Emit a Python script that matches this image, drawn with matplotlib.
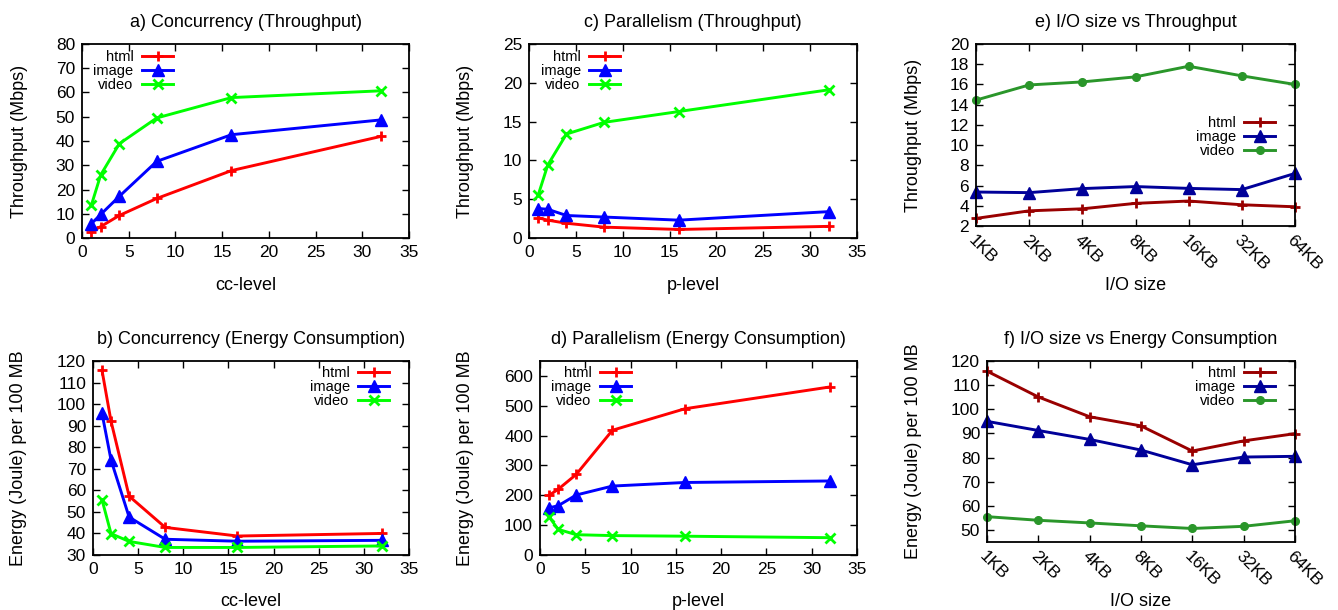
import matplotlib
matplotlib.use("Agg")
import matplotlib.pyplot as plt

plt.rcParams['font.family'] = ['Liberation Sans', 'DejaVu Sans']
plt.rcParams['font.size'] = 13

# ---------------- data ----------------
levels = [1, 2, 4, 8, 16, 32]
io_sizes = ['1KB', '2KB', '4KB', '8KB', '16KB', '32KB', '64KB']

cc_tp_html = [2.6, 4.7, 9.3, 16.3, 27.8, 41.9]
cc_tp_image = [5.9, 9.7, 17.2, 31.6, 42.6, 48.7]
cc_tp_video = [13.5, 26.0, 38.9, 49.5, 57.9, 60.7]

p_tp_html = [2.6, 2.3, 1.9, 1.4, 1.1, 1.5]
p_tp_image = [3.8, 3.7, 2.9, 2.7, 2.3, 3.4]
p_tp_video = [5.6, 9.4, 13.4, 14.9, 16.3, 19.1]

io_tp_html = [2.75, 3.5, 3.7, 4.24, 4.47, 4.1, 3.9]
io_tp_image = [5.36, 5.3, 5.7, 5.9, 5.72, 5.6, 7.2]
io_tp_video = [14.45, 15.95, 16.25, 16.75, 17.8, 16.85, 16.0]

cc_en_html = [115.6, 92.0, 57.3, 42.8, 38.8, 40.0]
cc_en_image = [95.7, 74.0, 47.6, 37.3, 36.4, 36.8]
cc_en_video = [55.6, 39.9, 36.3, 33.5, 33.5, 34.2]

p_en_html = [200, 220, 270, 418, 490, 563]
p_en_image = [158, 165, 201, 231, 243, 248]
p_en_video = [128, 86, 68, 65, 63, 58]

io_en_html = [115.8, 105.1, 96.9, 93.1, 82.7, 86.9, 89.9]
io_en_image = [95.0, 91.2, 87.5, 83.1, 77.0, 80.2, 80.5]
io_en_video = [55.5, 54.0, 52.9, 51.7, 50.6, 51.5, 53.8]

series_names = ['html', 'image', 'video']

W, H = 1338, 610
fig = plt.figure(figsize=(W / 100, H / 100), dpi=100)

def add_axes(l, t, r, b):
    return fig.add_axes([l / W, 1 - b / H, (r - l) / W, (b - t) / H])

bright = ['#ff0000', '#0000ff', '#00ff00']
dark = ['#990000', '#000099', '#2a962a']
mk_bright = ['+', '^', 'x']
mk_dark = ['+', '^', 'o']
ms_bright = [7, 8.5, 7]
ms_dark = [7, 8.5, 5.5]

def style(ax, rect, title, xlabel, ylabel, xlab_off, ylab_off):
    l, t, r, b = rect
    w, h = r - l, b - t
    ax.set_title(title, pad=12, fontsize=13)
    for s in ax.spines.values():
        s.set_linewidth(1.3)
    ax.tick_params(direction='in', top=True, right=True, length=5, width=1.0,
                   labelsize=12.5, pad=5)
    ax.set_xlabel(xlabel, va='center', fontsize=13)
    ax.set_ylabel(ylabel, va='center', fontsize=13)
    ax.xaxis.set_label_coords(0.5, -xlab_off / h)
    ax.yaxis.set_label_coords(-ylab_off / w, 0.5)

def legend(ax, rect, xr, yc):
    l, t, r, b = rect
    w, h = r - l, b - t
    ax.legend(loc='upper right', bbox_to_anchor=((xr - l) / w, (b - (yc - 6)) / h),
              markerfirst=False, frameon=False, borderpad=0, borderaxespad=0,
              handlelength=2.1, handletextpad=0.6, labelspacing=0.0, fontsize=10.5)

def plot_num(ax, x, ys, colors, markers, sizes):
    for y, c, m, s, n in zip(ys, colors, markers, sizes, series_names):
        ax.plot(x, y, color=c, marker=m, markersize=s, linewidth=2.1,
                markeredgewidth=2.0 if m in ('+', 'x') else 1.0, label=n)

# a
ra = (82, 44, 409, 238)
ax = add_axes(*ra)
plot_num(ax, levels, [cc_tp_html, cc_tp_image, cc_tp_video], bright, mk_bright, ms_bright)
ax.set_xlim(0, 35); ax.set_ylim(0, 80)
ax.set_xticks(range(0, 36, 5)); ax.set_yticks(range(0, 81, 10))
style(ax, ra, 'a) Concurrency (Throughput)', 'cc-level', 'Throughput (Mbps)', 47, 62)
legend(ax, ra, 173, 56)

# c
rc = (529, 44, 857, 238)
ax = add_axes(*rc)
plot_num(ax, levels, [p_tp_html, p_tp_image, p_tp_video], bright, mk_bright, ms_bright)
ax.set_xlim(0, 35); ax.set_ylim(0, 25)
ax.set_xticks(range(0, 36, 5)); ax.set_yticks(range(0, 26, 5))
style(ax, rc, 'c) Parallelism (Throughput)', 'p-level', 'Throughput (Mbps)', 47, 64)
legend(ax, rc, 620, 56)

# e
re_ = (976, 44, 1295, 226)
ax = add_axes(*re_)
xi = list(range(len(io_sizes)))
plot_num(ax, xi, [io_tp_html, io_tp_image, io_tp_video], dark, mk_dark, ms_dark)
ax.set_xlim(0, 6); ax.set_ylim(2, 20)
ax.set_xticks(xi); ax.set_xticklabels(io_sizes, rotation=-45, ha='left', rotation_mode='anchor')
ax.set_yticks(range(2, 21, 2))
style(ax, re_, 'e) I/O size vs Throughput', 'I/O size', 'Throughput (Mbps)', 59, 63)
legend(ax, re_, 1275, 122)

# b
rb = (93, 361, 409, 555)
ax = add_axes(*rb)
plot_num(ax, levels, [cc_en_html, cc_en_image, cc_en_video], bright, mk_bright, ms_bright)
ax.set_xlim(0, 35); ax.set_ylim(30, 120)
ax.set_xticks(range(0, 36, 5)); ax.set_yticks(range(30, 121, 10))
style(ax, rb, 'b) Concurrency (Energy Consumption)', 'cc-level', 'Energy (Joule) per 100 MB', 47, 74)
legend(ax, rb, 389, 372)

# d
rd = (540, 361, 857, 555)
ax = add_axes(*rd)
plot_num(ax, levels, [p_en_html, p_en_image, p_en_video], bright, mk_bright, ms_bright)
ax.set_xlim(0, 35); ax.set_ylim(0, 650)
ax.set_xticks(range(0, 36, 5)); ax.set_yticks(range(0, 601, 100))
style(ax, rd, 'd) Parallelism (Energy Consumption)', 'p-level', 'Energy (Joule) per 100 MB', 47, 74)
legend(ax, rd, 631, 372)

# f
rf = (987, 361, 1295, 542)
ax = add_axes(*rf)
plot_num(ax, xi, [io_en_html, io_en_image, io_en_video], dark, mk_dark, ms_dark)
ax.set_xlim(0, 6); ax.set_ylim(45, 120)
ax.set_xticks(xi); ax.set_xticklabels(io_sizes, rotation=-45, ha='left', rotation_mode='anchor')
ax.set_yticks(range(50, 121, 10))
style(ax, rf, 'f) I/O size vs Energy Consumption', 'I/O size', 'Energy (Joule) per 100 MB', 59, 74)
legend(ax, rf, 1275, 372)

for a in fig.axes:
    for m in a.get_lines():
        m.set_clip_on(False)

fig.savefig('out.png', dpi=100)
